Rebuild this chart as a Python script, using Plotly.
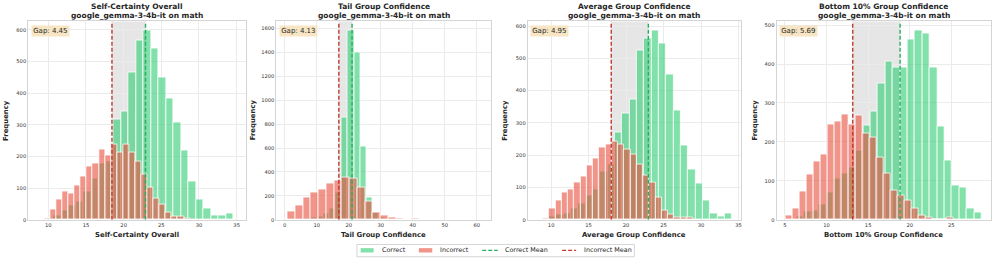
import numpy as np
import plotly.graph_objects as go

# ---------------- data ----------------
panel_titles = ["Self-Certainty Overall", "Tail Group Confidence",
                "Average Group Confidence", "Bottom 10% Group Confidence"]
subtitle = "google_gemma-3-4b-it on math"

# histogram bins: first edge, bin width, counts
sc_correct_start, sc_correct_width = 9.7, 0.996
sc_correct_counts = [5, 14, 30, 44, 58, 90, 130, 177, 185, 318, 342, 466, 567, 597, 541,
                     451, 385, 308, 218, 120, 63, 36, 13, 13, 20]
sc_incorrect_start, sc_incorrect_width = 9.45, 0.806
sc_incorrect_counts = [4, 33, 64, 88, 82, 108, 138, 170, 178, 222, 203, 237, 212, 237, 212,
                       184, 143, 102, 66, 49, 23, 9, 9, 3]

tail_correct_start, tail_correct_width = 0.43, 1.93
tail_correct_counts = [3, 8, 10, 12, 20, 30, 52, 96, 226, 860, 1580, 1400, 617, 185, 58, 20, 8, 3]
tail_incorrect_start, tail_incorrect_width = 0.9, 2.42
tail_incorrect_counts = [70, 120, 190, 226, 250, 304, 330, 351, 345, 273, 150, 60, 34, 16, 7, 3, 8]

avg_correct_start, avg_correct_width = 9.68, 0.978
avg_correct_counts = [10, 15, 20, 35, 52, 75, 93, 150, 170, 272, 330, 372, 525, 562, 585,
                      547, 449, 339, 229, 155, 114, 61, 19, 10, 19]
avg_incorrect_start, avg_incorrect_width = 8.88, 0.835
avg_incorrect_counts = [4, 35, 60, 85, 94, 115, 134, 167, 191, 224, 232, 242, 232, 219, 202,
                        170, 137, 117, 68, 30, 17, 7, 6, 7]

bot_correct_start, bot_correct_width = 6.38, 0.89
bot_correct_counts = [8, 22, 25, 40, 70, 105, 120, 135, 178, 241, 277, 351, 406, 390, 392,
                      464, 485, 479, 392, 239, 153, 88, 82, 29, 19]
bot_incorrect_start, bot_incorrect_width = 5.12, 0.837
bot_incorrect_counts = [10, 29, 74, 116, 150, 169, 245, 252, 271, 245, 269, 222, 211, 160,
                        118, 76, 62, 50, 29, 10, 7, 0, 0, 5]

correct_means = [22.90, 21.03, 22.97, 18.84]
incorrect_means = [18.45, 16.90, 18.02, 13.15]

legend_labels = ["Correct", "Incorrect", "Correct Mean", "Incorrect Mean"]

x_tick_step = [5, 10, 5, 5]
y_tick_step = [100, 200, 100, 100]
x_limits = [[7.34, 36.3], [-2.6, 64.5], [6.88, 35.33], [3.99, 29.73]]

hist_correct = [(sc_correct_start, sc_correct_width, sc_correct_counts),
                (tail_correct_start, tail_correct_width, tail_correct_counts),
                (avg_correct_start, avg_correct_width, avg_correct_counts),
                (bot_correct_start, bot_correct_width, bot_correct_counts)]
hist_incorrect = [(sc_incorrect_start, sc_incorrect_width, sc_incorrect_counts),
                  (tail_incorrect_start, tail_incorrect_width, tail_incorrect_counts),
                  (avg_incorrect_start, avg_incorrect_width, avg_incorrect_counts),
                  (bot_incorrect_start, bot_incorrect_width, bot_incorrect_counts)]

# ---------------- layout geometry (pixels of a 996x264 canvas) ----------------
W, H = 996, 264
plot_px = [(28.3, 246.7), (276.7, 491.7), (528.3, 741.7), (777.3, 991.7)]
ylabel_px = [6.7, 253.3, 506, 756]
top_px, bottom_px = 21.7, 222.3

GREEN = "rgba(46,204,113,0.6)"
RED = "rgba(231,76,60,0.6)"
GREEN_LINE = "#27ae60"
RED_LINE = "#c0392b"
FONT = "DejaVu Sans"
DASH = "4px,2px"


def px_x(p):
    return p / W


def px_y(p):
    return 1 - p / H


fig = go.Figure()
layout = dict()
annotations = []
shapes = []

for i in range(4):
    xa = "x" if i == 0 else f"x{i+1}"
    ya = "y" if i == 0 else f"y{i+1}"
    xkey = "xaxis" if i == 0 else f"xaxis{i+1}"
    ykey = "yaxis" if i == 0 else f"yaxis{i+1}"

    cs, cw, cc = hist_correct[i]
    is_, iw, ic = hist_incorrect[i]
    cc = np.array(cc, dtype=float)
    ic = np.array(ic, dtype=float)
    c_centers = cs + cw * (np.arange(len(cc)) + 0.5)
    i_centers = is_ + iw * (np.arange(len(ic)) + 0.5)
    ymax = 1.05 * max(cc.max(), ic.max())

    fig.add_trace(go.Bar(x=c_centers, y=cc, width=cw, name=legend_labels[0],
                         marker=dict(color=GREEN, line=dict(color="white", width=0.8)),
                         xaxis=xa, yaxis=ya, showlegend=False))
    fig.add_trace(go.Bar(x=i_centers, y=ic, width=iw, name=legend_labels[1],
                         marker=dict(color=RED, line=dict(color="white", width=0.8)),
                         xaxis=xa, yaxis=ya, showlegend=False))
    fig.add_trace(go.Scatter(x=[correct_means[i]] * 2, y=[0, ymax], mode="lines",
                             name=legend_labels[2],
                             line=dict(color=GREEN_LINE, width=1.4, dash=DASH),
                             xaxis=xa, yaxis=ya, showlegend=False))
    fig.add_trace(go.Scatter(x=[incorrect_means[i]] * 2, y=[0, ymax], mode="lines",
                             name=legend_labels[3],
                             line=dict(color=RED_LINE, width=1.4, dash=DASH),
                             xaxis=xa, yaxis=ya, showlegend=False))

    shapes.append(dict(type="rect", xref=xa, yref=f"{ya} domain",
                       x0=incorrect_means[i], x1=correct_means[i], y0=0, y1=1,
                       fillcolor="rgba(128,128,128,0.2)", line=dict(width=0),
                       layer="below"))

    x0p, x1p = plot_px[i]
    axis_common = dict(showgrid=True, gridcolor="#ebebeb", gridwidth=0.8,
                       zeroline=False, showline=True, linecolor="#d5d5d5",
                       linewidth=1, mirror=True, ticks="",
                       tickfont=dict(family=FONT, size=5.2, color="#333333"),
                       fixedrange=True)
    layout[xkey] = dict(domain=[x0p / W, x1p / W], range=x_limits[i],
                        dtick=x_tick_step[i], tick0=0, anchor=ya, **axis_common)
    layout[ykey] = dict(domain=[1 - bottom_px / H, 1 - top_px / H], range=[0, ymax],
                        dtick=y_tick_step[i], tick0=0, anchor=xa, **axis_common)

    cx = (x0p + x1p) / 2 / W
    annotations.append(dict(text=f"<b>{panel_titles[i]}</b>", x=cx, y=px_y(6.7),
                            xref="paper", yref="paper", showarrow=False,
                            xanchor="center", yanchor="middle",
                            font=dict(family=FONT, size=7.5, color="#262626")))
    annotations.append(dict(text=f"<b>{subtitle}</b>", x=cx, y=px_y(15.9),
                            xref="paper", yref="paper", showarrow=False,
                            xanchor="center", yanchor="middle",
                            font=dict(family=FONT, size=7.5, color="#262626")))
    annotations.append(dict(text=f"<b>{panel_titles[i]}</b>", x=cx, y=px_y(237.3),
                            xref="paper", yref="paper", showarrow=False,
                            xanchor="center", yanchor="middle",
                            font=dict(family=FONT, size=6.9, color="#262626")))
    annotations.append(dict(text="<b>Frequency</b>", x=px_x(ylabel_px[i]), y=px_y(121.7),
                            xref="paper", yref="paper", showarrow=False, textangle=-90,
                            xanchor="center", yanchor="middle",
                            font=dict(family=FONT, size=6.9, color="#262626")))
    gap = correct_means[i] - incorrect_means[i]
    annotations.append(dict(text=f"Gap: {gap:.2f}", x=0.011, y=0.984,
                            xref=f"{xa} domain", yref=f"{ya} domain", showarrow=False,
                            xanchor="left", yanchor="top", bgcolor="#f7e5c3",
                            borderpad=1.2,
                            font=dict(family=FONT, size=7.0, color="#262626")))

# ---------------- legend (drawn in paper space) ----------------
shapes.append(dict(type="rect", xref="paper", yref="paper",
                   x0=px_x(357.3), x1=px_x(635), y0=px_y(259.7), y1=px_y(247.3),
                   line=dict(color="#cccccc", width=0.8), fillcolor="white", layer="above"))
leg_y = 253.2
patch_specs = [(361, 374, GREEN), (419.3, 432.7, RED)]
for (a, b, col) in patch_specs:
    shapes.append(dict(type="rect", xref="paper", yref="paper",
                       x0=px_x(a), x1=px_x(b), y0=px_y(leg_y + 2.2), y1=px_y(leg_y - 2.2),
                       line=dict(width=0), fillcolor=col, layer="above"))
line_specs = [(482.7, 498.3, GREEN_LINE), (562.7, 576.7, RED_LINE)]
for (a, b, col) in line_specs:
    shapes.append(dict(type="line", xref="paper", yref="paper",
                       x0=px_x(a), x1=px_x(b), y0=px_y(leg_y), y1=px_y(leg_y),
                       line=dict(color=col, width=1.3, dash=DASH), layer="above"))
text_x = [380, 438.3, 503.3, 582.7]
for lab, tx in zip(legend_labels, text_x):
    annotations.append(dict(text=lab, x=px_x(tx), y=px_y(leg_y), xref="paper", yref="paper",
                            showarrow=False, xanchor="left", yanchor="middle",
                            font=dict(family=FONT, size=6.4, color="#262626")))

fig.update_layout(
    width=W, height=H, margin=dict(l=0, r=0, t=0, b=0),
    paper_bgcolor="white", plot_bgcolor="white",
    barmode="overlay", bargap=0, showlegend=False,
    annotations=annotations, shapes=shapes,
    font=dict(family=FONT),
    **layout,
)

fig.write_html("out.html", config={"displayModeBar": False},
               post_script="document.body.style.margin='0';")
